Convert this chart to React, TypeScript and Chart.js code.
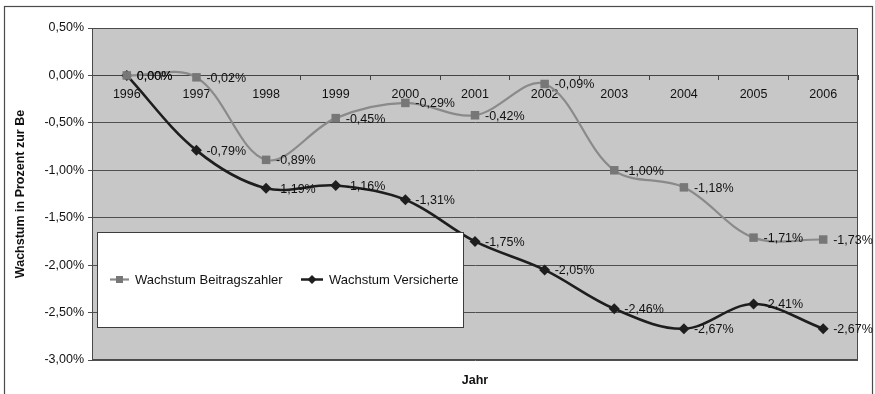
import React, { useEffect, useRef } from 'react';
import { Chart, registerables } from 'chart.js';

Chart.register(...registerables);

const years = ['1996', '1997', '1998', '1999', '2000', '2001', '2002', '2003', '2004', '2005', '2006'];
const beitragszahler = [0.0, -0.02, -0.89, -0.45, -0.29, -0.42, -0.09, -1.0, -1.18, -1.71, -1.73];
const versicherte = [0.0, -0.79, -1.19, -1.16, -1.31, -1.75, -2.05, -2.46, -2.67, -2.41, -2.67];
const seriesNames = ['Wachstum Beitragszahler', 'Wachstum Versicherte'];
const yMin = -3;
const yMax = 0.5;
const yStep = 0.5;
const yAxisTitle = 'Wachstum in Prozent zur Be';
const xAxisTitle = 'Jahr';

const FONT = "'Liberation Sans', Arial, sans-serif";
const TEXT = '#111111';
const GRAY_LINE = '#8a8a8a';
const GRAY_MARK = '#777777';
const BLACK = '#1e1e1e';

const fmt = (v: number) => (Math.abs(v) < 1e-9 ? 0 : v).toFixed(2).replace('.', ',') + '%';

const drawSquare = (ctx: CanvasRenderingContext2D, x: number, y: number, s: number, c: string) => {
  ctx.fillStyle = c;
  ctx.fillRect(x - s / 2, y - s / 2, s, s);
};
const drawDiamond = (ctx: CanvasRenderingContext2D, x: number, y: number, r: number, c: string) => {
  ctx.fillStyle = c;
  ctx.beginPath();
  ctx.moveTo(x, y - r);
  ctx.lineTo(x + r, y);
  ctx.lineTo(x, y + r);
  ctx.lineTo(x - r, y);
  ctx.closePath();
  ctx.fill();
};

const framePlugin = {
  id: 'frame',
  beforeDraw(chart: any) {
    const { ctx, chartArea: ca, width, height } = chart;
    ctx.save();
    ctx.fillStyle = '#ffffff';
    ctx.fillRect(0, 0, width, height);
    ctx.strokeStyle = '#4a4a4a';
    ctx.lineWidth = 1.2;
    ctx.strokeRect(4.5, 6.5, width - 7, height + 10);
    ctx.fillStyle = '#c7c7c7';
    ctx.fillRect(ca.left, ca.top, ca.right - ca.left, ca.bottom - ca.top);
    ctx.restore();
  },
  beforeDatasetsDraw(chart: any) {
    const { ctx, chartArea: ca } = chart;
    ctx.save();
    ctx.strokeStyle = '#4a4a4a';
    ctx.lineWidth = 1;
    ctx.strokeRect(ca.left + 0.5, ca.top + 0.5, ca.right - ca.left - 1, ca.bottom - ca.top - 1);
    ctx.restore();
  },
};

const labelsPlugin = {
  id: 'pointLabels',
  afterDatasetsDraw(chart: any) {
    const { ctx, chartArea: ca } = chart;
    ctx.save();
    ctx.font = `12.5px ${FONT}`;
    ctx.fillStyle = TEXT;
    ctx.textAlign = 'left';
    ctx.textBaseline = 'middle';
    chart.data.datasets.forEach((ds: any, i: number) => {
      const meta = chart.getDatasetMeta(i);
      meta.data.forEach((el: any, j: number) => {
        ctx.fillText(fmt(ds.data[j]), el.x + 10, el.y + 1);
      });
    });

    // legend box inside the plot area
    const lx = ca.left + 5;
    const ly = ca.top + 204;
    const lw = 366;
    const lh = 95;
    ctx.fillStyle = '#ffffff';
    ctx.fillRect(lx, ly, lw, lh);
    ctx.strokeStyle = '#3c3c3c';
    ctx.lineWidth = 1;
    ctx.strokeRect(lx + 0.5, ly + 0.5, lw, lh);
    const cy = ly + lh / 2;
    ctx.font = `13px ${FONT}`;
    ctx.fillStyle = TEXT;
    // item 1
    let x = lx + 13;
    ctx.strokeStyle = GRAY_LINE;
    ctx.lineWidth = 2.2;
    ctx.beginPath();
    ctx.moveTo(x, cy);
    ctx.lineTo(x + 19, cy);
    ctx.stroke();
    drawSquare(ctx, x + 9.5, cy, 7, GRAY_MARK);
    ctx.fillStyle = TEXT;
    ctx.fillText(seriesNames[0], x + 25, cy + 1);
    // item 2
    x = lx + 204;
    ctx.strokeStyle = BLACK;
    ctx.lineWidth = 2.5;
    ctx.beginPath();
    ctx.moveTo(x, cy);
    ctx.lineTo(x + 22, cy);
    ctx.stroke();
    drawDiamond(ctx, x + 11, cy, 4.5, BLACK);
    ctx.fillStyle = TEXT;
    ctx.fillText(seriesNames[1], x + 28, cy + 1);
    ctx.restore();
  },
};

export default function App() {
  const ref = useRef<HTMLCanvasElement | null>(null);

  useEffect(() => {
    if (!ref.current) return;
    const chart = new Chart(ref.current, {
      type: 'line',
      data: {
        labels: years,
        datasets: [
          {
            label: seriesNames[0],
            data: beitragszahler,
            borderColor: GRAY_LINE,
            backgroundColor: GRAY_MARK,
            borderWidth: 2.2,
            pointStyle: 'rect',
            pointRadius: 6,
            pointBorderWidth: 0,
            pointBackgroundColor: GRAY_MARK,
            tension: 0.35,
            fill: false,
          },
          {
            label: seriesNames[1],
            data: versicherte,
            borderColor: BLACK,
            backgroundColor: BLACK,
            borderWidth: 2.6,
            pointStyle: 'rectRot',
            pointRadius: 5.5,
            pointBorderWidth: 0,
            pointBackgroundColor: BLACK,
            tension: 0.35,
            fill: false,
          },
        ],
      },
      options: {
        animation: false,
        responsive: true,
        maintainAspectRatio: false,
        layout: { padding: { left: 7, top: 28, right: 17, bottom: 5.5 } },
        plugins: {
          legend: { display: false },
          tooltip: { enabled: false },
          title: {
            display: true,
            text: xAxisTitle,
            position: 'bottom',
            fullSize: false,
            color: TEXT,
            font: { family: FONT, size: 12.5, weight: 'bold' },
            padding: { top: 13.5, bottom: 0 },
          },
        },
        scales: {
          x: {
            type: 'category',
            position: { y: 0 } as any,
            offset: true,
            grid: {
              display: true,
              drawOnChartArea: false,
              drawTicks: true,
              tickLength: 4,
              offset: true,
              color: '#444444',
            },
            border: { display: true, color: '#444444', width: 1 },
            ticks: {
              color: TEXT,
              font: { family: FONT, size: 12.5 },
              padding: 8,
              maxRotation: 0,
              autoSkip: false,
            },
            afterFit(scale: any) {
              scale.height = 0;
              scale.paddingLeft = 0;
              scale.paddingRight = 0;
            },
          },
          y: {
            min: yMin,
            max: yMax,
            grid: {
              color: '#4f4f4f',
              lineWidth: 1,
              drawTicks: true,
              tickLength: 4,
            },
            border: { display: true, color: '#444444' },
            ticks: {
              stepSize: yStep,
              color: TEXT,
              font: { family: FONT, size: 12.5 },
              padding: 4,
              callback: (v: any) => fmt(Number(v)),
            },
            title: {
              display: true,
              text: yAxisTitle,
              color: TEXT,
              font: { family: FONT, size: 12.5, weight: 'bold' },
              padding: { top: 6, bottom: 0 },
            },
            afterFit(scale: any) {
              scale.width = 85;
              scale.paddingTop = 0;
              scale.paddingBottom = 0;
            },
          },
        },
      },
      plugins: [framePlugin, labelsPlugin],
    });
    return () => chart.destroy();
  }, []);

  return (
    <div style={{ position: 'absolute', left: 0, top: 0, width: 875, height: 394 }}>
      <canvas ref={ref} />
    </div>
  );
}
